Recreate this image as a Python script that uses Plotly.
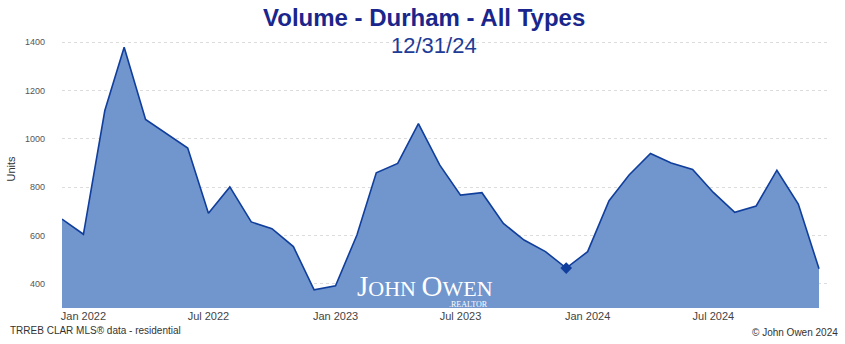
import plotly.graph_objects as go

months = [
    "2021-12-01", "2022-01-01", "2022-02-01", "2022-03-01", "2022-04-01", "2022-05-01",
    "2022-06-01", "2022-07-01", "2022-08-01", "2022-09-01", "2022-10-01", "2022-11-01",
    "2022-12-01", "2023-01-01", "2023-02-01", "2023-03-01", "2023-04-01", "2023-05-01",
    "2023-06-01", "2023-07-01", "2023-08-01", "2023-09-01", "2023-10-01", "2023-11-01",
    "2023-12-01", "2024-01-01", "2024-02-01", "2024-03-01", "2024-04-01", "2024-05-01",
    "2024-06-01", "2024-07-01", "2024-08-01", "2024-09-01", "2024-10-01", "2024-11-01",
    "2024-12-01",
]
units = [
    668, 605, 1117, 1379, 1080, 1021,
    962, 692, 801, 656, 628, 554,
    375, 392, 602, 859, 898, 1063,
    891, 767, 777, 650, 581, 533,
    465, 533, 744, 850, 939, 900,
    873, 778, 696, 722, 870, 730,
    462,
]
marker_month = ["2023-12-01"]
marker_value = [465]

title_text = "Volume - Durham - All Types"
subtitle_text = "12/31/24"
y_label = "Units"
source_text = "TRREB CLAR MLS® data - residential"
copyright_text = "© John Owen 2024"

fig = go.Figure()
fig.add_trace(go.Scatter(
    x=months, y=units, mode="lines", fill="tozeroy",
    fillcolor="rgb(113,149,205)",
    line=dict(color="rgb(16,62,156)", width=1.6),
    showlegend=False, hoverinfo="skip",
))
fig.add_trace(go.Scatter(
    x=marker_month, y=marker_value, mode="markers",
    marker=dict(symbol="diamond", size=9, color="rgb(16,62,156)"),
    showlegend=False, hoverinfo="skip",
))

fig.update_layout(
    width=845, height=344,
    margin=dict(l=62, r=17, t=30, b=36),
    paper_bgcolor="white", plot_bgcolor="white",
    font=dict(family="Liberation Sans, Arial, sans-serif", color="#444"),
    xaxis=dict(
        type="date", automargin=False,
        range=["2021-12-01", "2024-12-14"],
        tick0="2022-01-01", dtick="M6", tickformat="%b %Y",
        showgrid=False, zeroline=False, showline=False,
        ticks="", tickfont=dict(size=11, color="#444"),
    ),
    yaxis=dict(
        automargin=False,
        range=[300, 1450], tick0=0, dtick=200,
        showgrid=True, gridcolor="#dcdcdc", griddash="dot", gridwidth=1,
        zeroline=False, showline=False, ticks="",
        tickfont=dict(size=9, color="#555"), ticklabelstandoff=16,
        title=dict(text=y_label, font=dict(size=11, color="#333"), standoff=7),
    ),
    annotations=[
        dict(text="<b>" + title_text + "</b>", xref="paper", yref="paper",
             x=(424 - 62) / 766, y=(308 - 17) / 278, xanchor="center", yanchor="middle",
             showarrow=False, font=dict(size=24, color="rgb(26,38,140)",
                                        family="Liberation Sans, Arial")),
        dict(text=subtitle_text, xref="paper", yref="paper",
             x=(434 - 62) / 766, y=(308 - 46) / 278, xanchor="center", yanchor="middle",
             showarrow=False, font=dict(size=22, color="rgb(30,60,150)",
                                        family="Liberation Sans, Arial")),
        dict(text="<span style='font-size:29px'>J</span>OHN <span style='font-size:29px'>O</span>WEN",
             xref="paper", yref="paper",
             x=(425 - 62) / 766, y=(308 - 286) / 278, xanchor="center", yanchor="middle",
             showarrow=False, font=dict(size=22, color="white", family="Liberation Serif, serif")),
        dict(text=".REALTOR", xref="paper", yref="paper",
             x=(490 - 62) / 766, y=(308 - 304.5) / 278, xanchor="right", yanchor="middle",
             showarrow=False, font=dict(size=8, color="white", family="Liberation Serif, serif")),
        dict(text=source_text, xref="paper", yref="paper",
             x=-54 / 766, y=-(330 - 308) / 278, xanchor="left", yanchor="middle",
             showarrow=False, font=dict(size=10, color="#333")),
        dict(text=copyright_text, xref="paper", yref="paper",
             x=(840 - 62) / 766, y=-(333 - 308) / 278, xanchor="right", yanchor="middle",
             showarrow=False, font=dict(size=10, color="#333")),
    ],
)

fig.write_html("out.html")
